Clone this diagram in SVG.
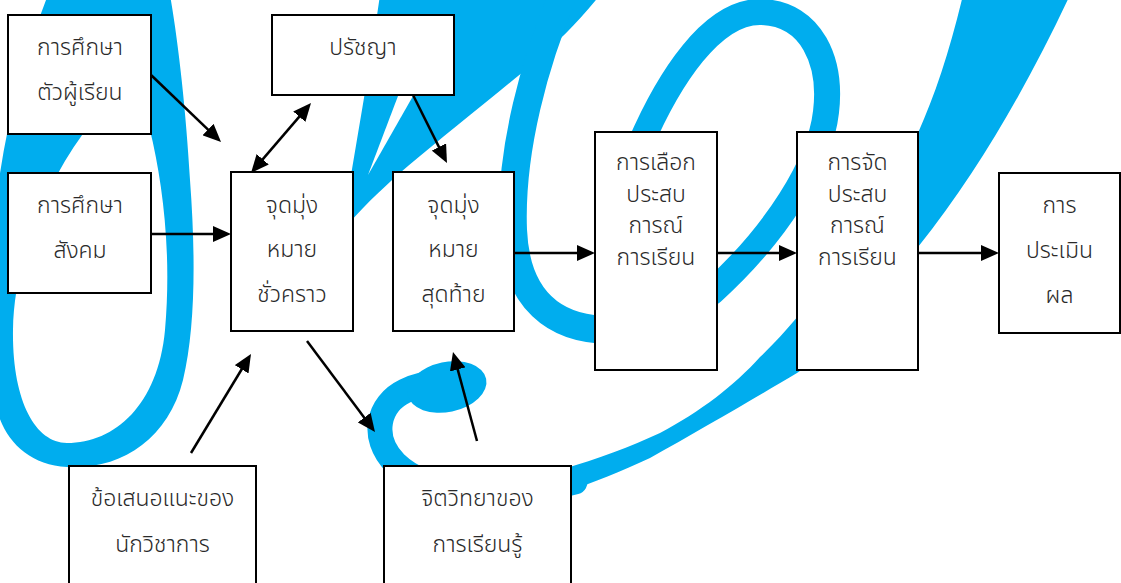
<svg xmlns="http://www.w3.org/2000/svg" width="1121" height="583" viewBox="0 0 1121 583">
<style>
.bg{fill:#00adee}
.bgs{fill:none;stroke:#00adee;stroke-linecap:round}
.box{fill:#fff;stroke:#000;stroke-width:2}
.t{font-family:"Noto Sans Thai","Noto Sans Thai UI","Loma","Garuda","Tlwg Typo","DejaVu Sans",sans-serif;font-size:23px;font-weight:300;fill:#2a2a2a;text-anchor:middle}
.c{fill:none;stroke:#000;stroke-width:2.5}
</style>
<defs>
<marker id="ah" viewBox="0 0 18 16" refX="8" refY="8" markerWidth="18" markerHeight="16" markerUnits="userSpaceOnUse" orient="auto-start-reverse">
<path d="M0,0 L18,8 L0,16 Z" fill="#000"/>
</marker>
</defs>
<rect x="0" y="0" width="1121" height="583" fill="#fff"/>
<g id="background">
<path class="bg" fill-rule="evenodd" d="M48,-5 L170,-5 C178,40 186,110 190,180 C196,260 195,330 183,380 C168,440 120,470 67,467 C25,465 0,435 -5,400 L-10,300 C-10,200 10,90 48,-5 Z M86,130 C55,170 14,250 13,330 C12,400 35,443 67,443 C115,443 158,405 165,330 C172,250 162,180 150,130 Z"/>
<path class="bg" d="M380,-5 L600,-5 C578,22 558,42 535,62 C495,95 445,135 408,166 C387,184 366,204 350,222 L338,265 C345,200 362,120 380,-5 Z"/>
<path fill="#fff" d="M368,175 L398,96 L413,96 Z"/>
<path class="bgs" stroke-width="28" d="M565,-10 C535,60 510,150 513,230 C516,300 555,330 610,330"/>
<path class="bgs" stroke-width="26" d="M640,145 C668,80 712,10 762,12 C812,14 832,62 826,112 C820,165 775,235 712,292"/>
<path class="bg" d="M963,-5 L1070,-5 C1030,80 980,170 918,247 C880,300 840,345 797,373 C760,395 700,430 650,458 C620,472 595,482 565,492 L560,470 C600,458 630,447 660,433 C700,412 735,385 760,357 C800,320 870,230 918,133 C935,95 950,50 963,-5 Z"/>
<path class="bgs" stroke-width="25" d="M575,482 C490,505 425,492 395,463 C370,437 378,404 405,391 C430,379 455,381 470,387"/>
<ellipse class="bg" cx="447" cy="387" rx="40" ry="25" transform="rotate(-12 447 387)"/>
</g>
<g id="connectors">
<line class="c" x1="151" y1="75" x2="213.8" y2="135.1" marker-end="url(#ah)"/>
<line class="c" x1="151" y1="234" x2="221" y2="234" marker-end="url(#ah)"/>
<line class="c" x1="257.5" y1="165.4" x2="304.5" y2="110.6" marker-start="url(#ah)" marker-end="url(#ah)"/>
<line class="c" x1="413" y1="95" x2="442.5" y2="154.1" marker-end="url(#ah)"/>
<line class="c" x1="307" y1="341" x2="369" y2="424" marker-end="url(#ah)"/>
<line class="c" x1="191" y1="453" x2="245.8" y2="362.5" marker-end="url(#ah)"/>
<line class="c" x1="477" y1="441" x2="455.6" y2="361.7" marker-end="url(#ah)"/>
<line class="c" x1="514" y1="253" x2="585" y2="253" marker-end="url(#ah)"/>
<line class="c" x1="717" y1="253" x2="787" y2="253" marker-end="url(#ah)"/>
<line class="c" x1="918" y1="253" x2="989" y2="253" marker-end="url(#ah)"/>
</g>
<g id="n-learner">
<rect class="box" x="8" y="15" width="143" height="119"/>
<text class="t" x="80" y="55">การศึกษา</text>
<text class="t" x="80" y="100">ตัวผู้เรียน</text>
</g>
<g id="n-society">
<rect class="box" x="8" y="173" width="143" height="120"/>
<text class="t" x="80" y="213">การศึกษา</text>
<text class="t" x="80" y="258">สังคม</text>
</g>
<g id="n-philosophy">
<rect class="box" x="272" y="15" width="182" height="80"/>
<text class="t" x="363" y="55">ปรัชญา</text>
</g>
<g id="n-temp-goal">
<rect class="box" x="231" y="172" width="122" height="159"/>
<text class="t" x="292" y="213">จุดมุ่ง</text>
<text class="t" x="292" y="257">หมาย</text>
<text class="t" x="292" y="302">ชั่วคราว</text>
</g>
<g id="n-final-goal">
<rect class="box" x="393" y="172" width="121" height="159"/>
<text class="t" x="453.5" y="213">จุดมุ่ง</text>
<text class="t" x="453.5" y="257">หมาย</text>
<text class="t" x="453.5" y="302">สุดท้าย</text>
</g>
<g id="n-select">
<rect class="box" x="595" y="132" width="122" height="238"/>
<text class="t" x="656" y="170">การเลือก</text>
<text class="t" x="656" y="202">ประสบ</text>
<text class="t" x="656" y="233">การณ์</text>
<text class="t" x="656" y="265">การเรียน</text>
</g>
<g id="n-organize">
<rect class="box" x="797" y="132" width="121" height="238"/>
<text class="t" x="857.5" y="170">การจัด</text>
<text class="t" x="857.5" y="202">ประสบ</text>
<text class="t" x="857.5" y="233">การณ์</text>
<text class="t" x="857.5" y="265">การเรียน</text>
</g>
<g id="n-evaluate">
<rect class="box" x="999" y="173" width="121" height="160"/>
<text class="t" x="1059.5" y="213">การ</text>
<text class="t" x="1059.5" y="258">ประเมิน</text>
<text class="t" x="1059.5" y="303">ผล</text>
</g>
<g id="n-scholars">
<rect class="box" x="69" y="466" width="187" height="130"/>
<text class="t" x="162.5" y="506">ข้อเสนอแนะของ</text>
<text class="t" x="162.5" y="552">นักวิชาการ</text>
</g>
<g id="n-psychology">
<rect class="box" x="384" y="466" width="187" height="130"/>
<text class="t" x="477.5" y="506">จิตวิทยาของ</text>
<text class="t" x="477.5" y="552">การเรียนรู้</text>
</g>
</svg>
